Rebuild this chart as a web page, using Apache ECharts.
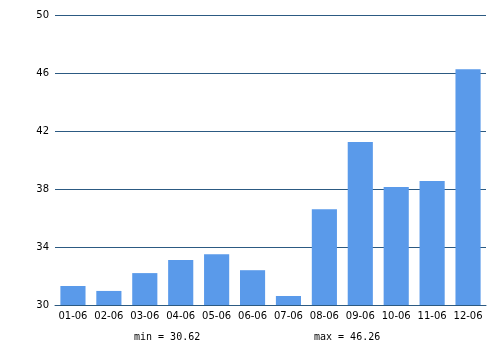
<!DOCTYPE html>
<html><head><meta charset="utf-8">
<script src="https://cdn.jsdelivr.net/npm/echarts@6/dist/echarts.min.js"></script>
<style>html,body{margin:0;padding:0;background:#fff}#c{width:500px;height:350px}</style>
</head><body><div id="c"></div>
<script>
const categories = ['01-06','02-06','03-06','04-06','05-06','06-06','07-06','08-06','09-06','10-06','11-06','12-06'];
const values = [31.31, 30.97, 32.2, 33.1, 33.5, 32.4, 30.62, 36.6, 41.24, 38.14, 38.55, 46.26];
const yTicks = [30, 34, 38, 42, 46, 50];
const minText = 'min = 30.62';
const maxText = 'max = 46.26';

const chart = echarts.init(document.getElementById('c'), null, {renderer:'canvas'});
const font = 'DejaVu Sans';
chart.setOption({
  animation: false,
  grid: {left: 55, right: 14, top: 15, bottom: 45, containLabel: false},
  xAxis: {
    type: 'category', data: categories,
    axisLine: {show: true, lineStyle: {color: '#2c5a82', width: 1}},
    axisTick: {show: false},
    axisLabel: {color: '#000', fontFamily: font, fontSize: 10, margin: 6, interval: 0}
  },
  yAxis: {
    type: 'value', min: yTicks[0], max: yTicks[yTicks.length-1], interval: 4,
    axisLine: {show: false}, axisTick: {show: false},
    axisLabel: {color: '#000', fontFamily: font, fontSize: 10, margin: 6},
    splitLine: {lineStyle: {color: '#2c5a82', width: 1}}
  },
  series: [{
    type: 'bar', data: values, barCategoryGap: '30%',
    itemStyle: {color: '#5a9aea'}
  }],
  graphic: [
    {type: 'text', left: 134, top: 332, style: {text: minText, font: '10px "DejaVu Sans Mono"', fill: '#000'}},
    {type: 'text', left: 314, top: 332, style: {text: maxText, font: '10px "DejaVu Sans Mono"', fill: '#000'}}
  ]
});
</script></body></html>
